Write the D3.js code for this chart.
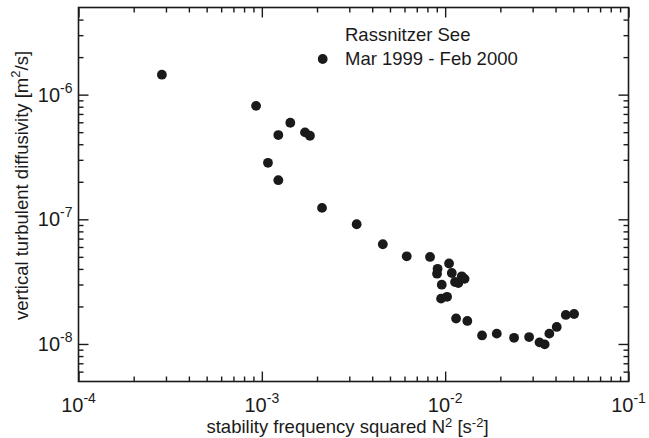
<!DOCTYPE html>
<html>
<head>
<meta charset="utf-8">
<script src="https://cdn.jsdelivr.net/npm/d3@7"></script>
<style>
  body { margin: 0; background: #fff; }
  svg text { font-family: "Liberation Sans", Arial, sans-serif; fill: #1a1a1a; }
</style>
</head>
<body>
<div id="chart"></div>
<script>
// data: N^2 [s^-2] and Kz [m^2/s]
var n2 = [
  2.85e-4, 9.3e-4, 1.43e-3, 1.23e-3, 1.72e-3, 1.83e-3, 1.08e-3, 1.23e-3,
  2.13e-3, 3.29e-3, 4.57e-3, 6.17e-3, 8.27e-3, 1.05e-2, 9.09e-3, 9.03e-3,
  1.087e-2, 1.232e-2, 1.276e-2, 1.132e-2, 1.18e-2, 9.58e-3, 9.5e-3, 1.024e-2,
  1.147e-2, 1.321e-2, 1.589e-2, 1.912e-2, 2.376e-2, 2.87e-2, 3.27e-2, 3.49e-2,
  3.7e-2, 4.06e-2, 4.55e-2, 5.05e-2
]
var kz = [
  1.445e-6, 8.13e-7, 5.95e-7, 4.74e-7, 4.98e-7, 4.68e-7, 2.84e-7, 2.06e-7,
  1.235e-7, 9.13e-8, 6.31e-8, 5.05e-8, 4.99e-8, 4.42e-8, 4.01e-8, 3.66e-8,
  3.71e-8, 3.49e-8, 3.33e-8, 3.14e-8, 3.08e-8, 2.99e-8, 2.31e-8, 2.39e-8,
  1.6e-8, 1.53e-8, 1.17e-8, 1.21e-8, 1.12e-8, 1.136e-8, 1.03e-8, 9.93e-9,
  1.21e-8, 1.37e-8, 1.71e-8, 1.74e-8
]
var xMajor = [1e-4, 1e-3, 1e-2, 1e-1]
var xExp = ['-4', '-3', '-2', '-1']
var yMajor = [1e-8, 1e-7, 1e-6]
var yExp = ['-8', '-7', '-6']
var legendLines = ['Rassnitzer See', 'Mar 1999 - Feb 2000']

var width = 649
var height = 438
var pLeft = 78.5, pRight = 628.5, pTop = 7.5, pBottom = 381.5

var x = d3.scaleLog().domain([1e-4, 1e-1]).range([pLeft, pRight])
var y = d3.scaleLog().domain([5e-9, 5e-6]).range([pBottom, pTop])

function minorTicks(scale) {
  var dom = scale.domain()
  return scale.ticks().filter(function(t) {
    var l = Math.log10(t)
    return Math.abs(l - Math.round(l)) > 1e-6 && t > dom[0] * 1.0001 && t < dom[1] * 0.9999
  })
}

var svg = d3.select('#chart').append('svg')
  .attr('width', width)
  .attr('height', height)

// ticks inward on all four sides
function addAxis(axisFn, scale, vals, size, tr) {
  svg.append('g')
    .attr('transform', tr)
    .call(axisFn(scale).tickValues(vals).tickSize(size).tickSizeOuter(0).tickFormat(''))
    .call(function(g) { g.select('.domain').remove() })
    .selectAll('line').attr('stroke', '#1a1a1a').attr('stroke-width', 1.4)
}

var xMin = minorTicks(x), yMin = minorTicks(y)
addAxis(d3.axisBottom, x, xMin, -5, 'translate(0,' + pBottom + ')')
addAxis(d3.axisBottom, x, xMajor, -10, 'translate(0,' + pBottom + ')')
addAxis(d3.axisTop, x, xMin, -5, 'translate(0,' + pTop + ')')
addAxis(d3.axisTop, x, xMajor, -10, 'translate(0,' + pTop + ')')
addAxis(d3.axisLeft, y, yMin, -5, 'translate(' + pLeft + ',0)')
addAxis(d3.axisLeft, y, yMajor, -10, 'translate(' + pLeft + ',0)')
addAxis(d3.axisRight, y, yMin, -5, 'translate(' + pRight + ',0)')
addAxis(d3.axisRight, y, yMajor, -10, 'translate(' + pRight + ',0)')

svg.append('rect')
  .attr('x', pLeft).attr('y', pTop)
  .attr('width', pRight - pLeft).attr('height', pBottom - pTop)
  .attr('fill', 'none').attr('stroke', '#1a1a1a').attr('stroke-width', 1.6)

// tick labels with superscripts
xMajor.forEach(function(v, i) {
  var t = svg.append('text')
    .attr('x', x(v)).attr('y', pBottom + 30)
    .attr('text-anchor', 'middle')
    .style('font-size', '20px')
  t.append('tspan').text('10')
  t.append('tspan').attr('dy', -9).style('font-size', '14px').text(xExp[i])
})

yMajor.forEach(function(v, i) {
  var t = svg.append('text')
    .attr('x', pLeft - 6).attr('y', y(v) + 7)
    .attr('text-anchor', 'end')
    .style('font-size', '20px')
  t.append('tspan').text('10')
  t.append('tspan').attr('dy', -9).style('font-size', '14px').text(yExp[i])
})

// axis titles
var xt = svg.append('text')
  .attr('x', (pLeft + pRight) / 2 - 6).attr('y', 433)
  .attr('text-anchor', 'middle')
  .style('font-size', '18.5px')
xt.append('tspan').text('stability frequency squared N')
xt.append('tspan').attr('dy', -6).style('font-size', '13px').text('2')
xt.append('tspan').attr('dy', 6).text(' [s')
xt.append('tspan').attr('dy', -6).style('font-size', '13px').text('-2')
xt.append('tspan').attr('dy', 6).text(']')

var yt = svg.append('text')
  .attr('transform', 'translate(28,' + ((pTop + pBottom) / 2 - 9) + ') rotate(-90)')
  .attr('text-anchor', 'middle')
  .style('font-size', '18.5px')
yt.append('tspan').text('vertical turbulent diffusivity [m')
yt.append('tspan').attr('dy', -8).style('font-size', '13px').text('2')
yt.append('tspan').attr('dy', 8).text('/s]')

// data points
svg.append('g').selectAll('circle')
  .data(n2)
  .enter()
  .append('circle')
  .attr('cx', function(d) { return x(d) })
  .attr('cy', function(d, i) { return y(kz[i]) })
  .attr('r', 4.9)
  .attr('fill', '#1a1a1a')

// legend
svg.append('circle').attr('cx', 322.7).attr('cy', 59).attr('r', 4.9).attr('fill', '#1a1a1a')
legendLines.forEach(function(s, i) {
  svg.append('text')
    .attr('x', 345).attr('y', 41 + i * 24)
    .style('font-size', '18.5px')
    .text(s)
})
</script>
</body>
</html>
